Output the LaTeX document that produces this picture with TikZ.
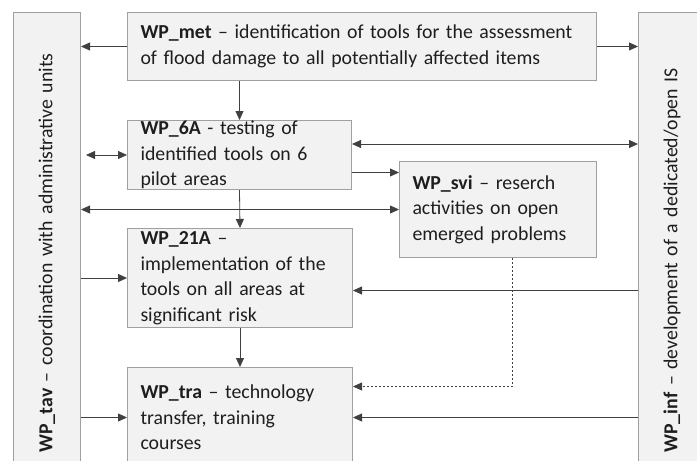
\documentclass[tikz,border=0pt]{standalone}
\usepackage{fontspec}
\setmainfont{Carlito}
\usetikzlibrary{arrows.meta}
\definecolor{boxfill}{HTML}{F2F2F2}
\definecolor{boxgray}{HTML}{A0A0A0}
\definecolor{linegray}{HTML}{404040}
\definecolor{txtgray}{HTML}{1E1E1E}

\begin{document}
\begin{tikzpicture}[x=1pt,y=-1pt,
    font=\fontsize{19.8}{25.5}\selectfont, text=txtgray,
    wp/.style={draw=boxgray, fill=boxfill, line width=1pt, inner xsep=13pt, inner ysep=0pt,
               align=left, anchor=north west},
    bar/.style={wp, rotate=90, anchor=north east, inner xsep=20pt,
                minimum width=460pt, minimum height=67pt, text width=420pt},
    link/.style={draw=linegray, line width=0.8pt, >={Triangle[length=9pt,width=8pt]}}]
    \useasboundingbox (0,0) rectangle (697,461);
    \clip (0,0) rectangle (697,461);
    \node[bar] (wp_tav) at (13,12) {\textbf{WP\_tav} \textendash{} coordination with administrative units};
    \node[bar] (wp_inf) at (638,12) {\textbf{WP\_inf} \textendash{} development of a dedicated/open IS};
    \node[wp, minimum width=469pt, minimum height=68pt, text width=443pt] (wp_met) at (127,12)
        {\textbf{WP\_met} \textendash{} identification of tools for the assessment\\of flood damage to all potentially affected items};
    \node[wp, minimum width=224pt, minimum height=69pt, text width=198pt] (wp_6A) at (127,120)
        {\textbf{WP\_6A} - testing of\\identified tools on 6\\pilot areas};
    \node[wp, minimum width=197pt, minimum height=96pt, text width=171pt] (wp_svi) at (399,161)
        {\textbf{WP\_svi} \textendash{} reserch\\activities on open\\emerged problems};
    \node[wp, minimum width=225pt, minimum height=99pt, text width=199pt] (wp_21A) at (127,228)
        {\textbf{WP\_21A} \textendash{}\\implementation of the\\tools on all areas at\\significant risk};
    \node[wp, minimum width=225pt, minimum height=100pt, text width=199pt] (wp_tra) at (127,367)
        {\textbf{WP\_tra} \textendash{} technology\\transfer, training\\courses};
    \coordinate (p_6A) at ([yshift=11pt]wp_6A.east);
    \coordinate (q_6A) at ([yshift=-17.5pt]wp_6A.east);
    \coordinate (p_21A) at ([yshift=-12.5pt]wp_21A.east);
    \coordinate (p_svi) at ([xshift=14pt]wp_svi.south);
    \coordinate (p_tra) at ([yshift=31pt]wp_tra.east);
    \draw[link,->] (wp_met.west) -- (wp_met.west -| wp_tav.south);
    \draw[link,->] (wp_met.east) -- (wp_met.east -| wp_inf.north);
    \draw[link,->] (wp_met.south -| wp_6A.north) -- (wp_6A.north);
    \draw[link,<->] ([xshift=5pt]wp_6A.west -| wp_tav.south) -- (wp_6A.west);
    \draw[link,<->] (p_6A) -- (p_6A -| wp_inf.north);
    \draw[link,<->] (wp_svi.west -| wp_tav.south) -- (wp_svi.west);
    \draw[link,->] (q_6A) -- (q_6A -| wp_svi.west);
    \draw[link,->] (wp_6A.south) -- (wp_21A.north);
    \draw[link,->] (wp_21A.west -| wp_tav.south) -- (wp_21A.west);
    \draw[link,->] (p_21A -| wp_inf.north) -- (p_21A);
    \draw[link,->] (wp_21A.south) -- (wp_tra.north);
    \draw[link,->] (wp_tra.west -| wp_tav.south) -- (wp_tra.west);
    \draw[link,->] (wp_tra.east -| wp_inf.north) -- (wp_tra.east);
    \draw[link,->,dash pattern=on 2pt off 2pt] (p_svi) |- (p_tra);
\end{tikzpicture}
\end{document}
